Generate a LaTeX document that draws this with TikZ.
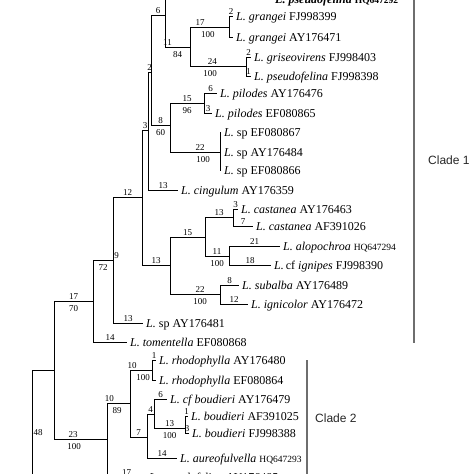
\documentclass[tikz,border=0pt]{standalone}
\usepackage{fontspec}
\setmainfont{Liberation Serif}
\setsansfont{Liberation Sans}
\usepackage{tikz}
\definecolor{cladegray}{HTML}{6E6E6E}
\newcommand{\lac}[2]{\textit{L. #1}\ #2}
\newcommand{\lacsp}[1]{\textit{L.}\ sp\ #1}
\newcommand{\hqnum}[1]{{\fontsize{9.5}{10}\selectfont #1}}
\tikzset{
  branch/.style={black, line width=0.8pt},
  taxon/.style={anchor=west, inner xsep=3pt, inner ysep=0pt, text height=8pt, text depth=0pt, font=\fontsize{12}{14}\selectfont},
  lenlabel/.style={above, inner sep=1pt, font=\fontsize{9}{9}\selectfont},
  bootlabel/.style={below=3.5pt, inner sep=0.5pt, font=\fontsize{9}{9}\selectfont},
  cladebar/.style={cladegray, line width=1.5pt},
  cladelabel/.style={anchor=west, inner sep=0pt, font=\sffamily\fontsize{12}{14}\selectfont, text=black!85}
}

\begin{document}
\begin{tikzpicture}[x=1pt, y=-1pt]
  \useasboundingbox (0,0) rectangle (474,474);
  \clip (0,0) rectangle (474,474);

  \coordinate (r48) at (32,490);
  \coordinate (c1770) at (54,370);
  \coordinate (c972g) at (93,301);
  \coordinate (c972) at (113,260);
  \coordinate (c12) at (142,197);
  \coordinate (c3) at (148,130);
  \coordinate (c2) at (151,72);
  \coordinate (c6) at (165,15);
  \coordinate (c1184) at (190,47);
  \coordinate (cgran) at (229,27);
  \coordinate (cgris) at (246,66);
  \coordinate (c860) at (170,125);
  \coordinate (cpil) at (204,103);
  \coordinate (csp) at (220,152);
  \coordinate (c13b) at (170,265);
  \coordinate (c15) at (205,237);
  \coordinate (ccast) at (233,217);
  \coordinate (c11) at (229,256);
  \coordinate (c22b) at (220,294);
  \coordinate (c23) at (107,439);
  \coordinate (c1089) at (130,403);
  \coordinate (crho) at (152,370);
  \coordinate (c7) at (147,437);
  \coordinate (c4) at (154,414);
  \coordinate (cboud) at (185,428);

  \node[taxon, font=\fontsize{12}{14}\selectfont\bfseries] (pfhq) at (272,-1) {\lac{pseudofelina}{\hqnum{HQ647292}}};
  \node[taxon] (gran1) at (233,16) {\lac{grangei}{FJ998399}};
  \node[taxon] (gran2) at (233,37) {\lac{grangei}{AY176471}};
  \node[taxon] (gris) at (251,57) {\lac{griseovirens}{FJ998403}};
  \node[taxon] (psfe) at (251,76) {\lac{pseudofelina}{FJ998398}};
  \node[taxon] (pil1) at (217,93) {\lac{pilodes}{AY176476}};
  \node[taxon] (pil2) at (212,113) {\lac{pilodes}{EF080865}};
  \node[taxon] (sp1) at (221,132) {\lacsp{EF080867}};
  \node[taxon] (sp2) at (221,152) {\lacsp{AY176484}};
  \node[taxon] (sp3) at (221,170) {\lacsp{EF080866}};
  \node[taxon] (cing) at (178,190) {\lac{cingulum}{AY176359}};
  \node[taxon] (cas1) at (238,209) {\lac{castanea}{AY176463}};
  \node[taxon] (cas2) at (253,226) {\lac{castanea}{AF391026}};
  \node[taxon] (alop) at (280,246) {\lac{alopochroa}{\hqnum{HQ647294}}};
  \node[taxon] (ign) at (271,265) {\textit{L.}\,cf\ \textit{ignipes}\ FJ998390};
  \node[taxon] (suba) at (239,285) {\lac{subalba}{AY176489}};
  \node[taxon] (ignc) at (248,304) {\lac{ignicolor}{AY176472}};
  \node[taxon] (sp4) at (143,323) {\lacsp{AY176481}};
  \node[taxon] (tome) at (127,342) {\lac{tomentella}{EF080868}};
  \node[taxon] (rho1) at (156,360) {\lac{rhodophylla}{AY176480}};
  \node[taxon] (rho2) at (156,380) {\lac{rhodophylla}{EF080864}};
  \node[taxon] (cfbo) at (167,399) {\lac{cf boudieri}{AY176479}};
  \node[taxon] (bou1) at (188,416) {\lac{boudieri}{AF391025}};
  \node[taxon] (bou2) at (189,433) {\lac{boudieri}{FJ998388}};
  \node[taxon] (aure) at (177,458) {\lac{aureofulvella}{\hqnum{HQ647293}}};
  \node[taxon] (lowtax) at (146,477) {\lac{pseudofelina}{AY176485}};

  \draw[branch] (r48) |- (c1770);
  \draw[branch] (c1770) |- (c972g) node[lenlabel,pos=.75]{17} node[bootlabel,pos=.75]{70};
  \draw[branch] (c1770) |- (c23) node[lenlabel,pos=.68]{23} node[bootlabel,pos=.69]{100};
  \draw[branch] (c972g) |- (c972) node[lenlabel,pos=1,anchor=south west]{9} node[bootlabel,pos=.75]{72};
  \draw[branch] (c972g) |- (tome) node[lenlabel,pos=.75]{14};
  \draw[branch] (c972) |- (c12) node[lenlabel,pos=.75]{12};
  \draw[branch] (c972) |- (sp4) node[lenlabel,pos=.75]{13};
  \draw[branch] (c12) |- (c3) node[lenlabel,pos=.75]{3};
  \draw[branch] (c12) |- (c13b) node[lenlabel,pos=.75]{13};
  \draw[branch] (c3) |- (c2) node[lenlabel,pos=.75]{2};
  \draw[branch] (c3) |- (cing) node[lenlabel,pos=.75]{13};
  \draw[branch] (c2) |- (c6) node[lenlabel,pos=.75]{6};
  \draw[branch] (c2) |- (c860) node[lenlabel,pos=.75]{8} node[bootlabel,pos=.75]{60};
  \draw[branch] (c6) |- (pfhq);
  \draw[branch] (c6) |- (c1184) node[lenlabel,pos=.55]{11} node[bootlabel,pos=.75]{84};
  \draw[branch] (c1184) |- (cgran) node[lenlabel,pos=.63]{17} node[bootlabel,pos=.73]{100};
  \draw[branch] (c1184) |- (cgris) node[lenlabel,pos=.70]{24} node[bootlabel,pos=.68]{100};
  \draw[branch] (cgran) |- (gran1) node[lenlabel,pos=.75]{2};
  \draw[branch] (cgran) |- (gran2);
  \draw[branch] (cgris) |- (gris) node[lenlabel,pos=.75]{2};
  \draw[branch] (cgris) |- (psfe) node[lenlabel,pos=.75]{1};
  \draw[branch] (c860) |- (cpil) node[lenlabel,pos=.75]{15} node[bootlabel,pos=.75]{96};
  \draw[branch] (c860) |- (csp) node[lenlabel,pos=.8]{22} node[bootlabel,pos=.83]{100};
  \draw[branch] (cpil) |- (pil1) node[lenlabel,pos=.75]{6};
  \draw[branch] (cpil) |- (pil2) node[lenlabel,pos=.75]{3};
  \draw[branch] (csp) |- (sp1);
  \draw[branch] (csp) |- (sp2);
  \draw[branch] (csp) |- (sp3);
  \draw[branch] (c13b) |- (c15) node[lenlabel,pos=.75]{15};
  \draw[branch] (c13b) |- (c22b) node[lenlabel,pos=.8]{22} node[bootlabel,pos=.8]{100};
  \draw[branch] (c15) |- (ccast) node[lenlabel,pos=.75]{13};
  \draw[branch] (c15) |- (c11) node[lenlabel,pos=.75]{11} node[bootlabel,pos=.75]{100};
  \draw[branch] (ccast) |- (cas1) node[lenlabel,pos=.75]{3};
  \draw[branch] (ccast) |- (cas2) node[lenlabel,pos=.75]{7};
  \draw[branch] (c11) |- (alop) node[lenlabel,pos=.75]{21};
  \draw[branch] (c11) |- (ign) node[lenlabel,pos=.75]{18};
  \draw[branch] (c22b) |- (suba) node[lenlabel,pos=.75]{8};
  \draw[branch] (c22b) |- (ignc) node[lenlabel,pos=.75]{12};
  \draw[branch] (c23) |- (c1089) node[lenlabel,pos=.55]{10} node[bootlabel,pos=.72]{89};
  \draw[branch] (c23) |- (lowtax) node[lenlabel,pos=.75]{17};
  \draw[branch] (c1089) |- (crho) node[lenlabel,pos=.55]{10} node[bootlabel,pos=.8]{100};
  \draw[branch] (c1089) |- (c7) node[lenlabel,pos=.75]{7};
  \draw[branch] (crho) |- (rho1) node[lenlabel,pos=.75]{1};
  \draw[branch] (crho) |- (rho2);
  \draw[branch] (c7) |- (c4) node[lenlabel,pos=.75]{4};
  \draw[branch] (c7) |- (aure) node[lenlabel,pos=.75]{14};
  \draw[branch] (c4) |- (cfbo) node[lenlabel,pos=.75]{6};
  \draw[branch] (c4) |- (cboud) node[lenlabel,pos=.75]{13} node[bootlabel,pos=.75]{100};
  \draw[branch] (cboud) |- (bou1) node[lenlabel,pos=.75]{1};
  \draw[branch] (cboud) |- (bou2) node[lenlabel,pos=.75]{3};
  \node[lenlabel, anchor=center] (s48) at (38,433) {48};

  \draw[cladebar] (414,-5) -- (414,343);
  \node[cladelabel] (clade1) at (428,160) {Clade 1};
  \draw[cladebar] (307,360) -- (307,480);
  \node[cladelabel] (clade2) at (315,418) {Clade 2};
\end{tikzpicture}
\end{document}
